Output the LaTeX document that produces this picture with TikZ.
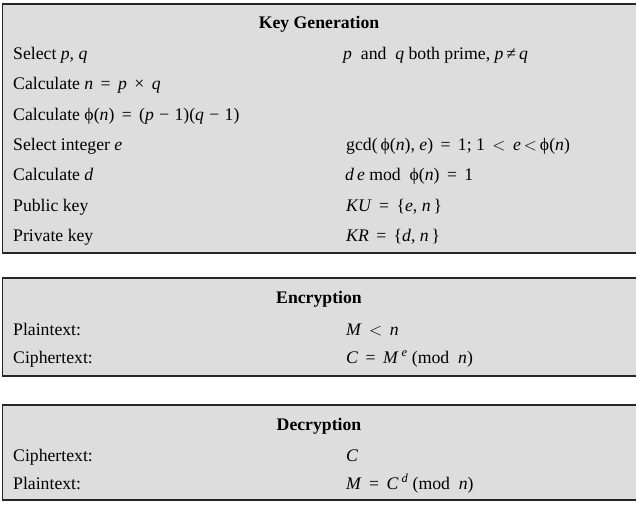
\documentclass[tikz,border=0pt]{standalone}
\usepackage{fontspec}
\setmainfont{Liberation Serif}
\usepackage{tikz}
\definecolor{panelgray}{gray}{0.865}
\newcommand{\vr}[1]{\textit{#1}}
\newcommand{\rel}[1]{\hspace{0.42em}#1\hspace{0.42em}}
\newcommand{\bin}[1]{\hspace{0.3em}#1\hspace{0.3em}}
\tikzset{
    every node/.style={inner sep=0pt, anchor=base west,
    	font=\fontsize{17.7}{21}\selectfont}
}
\tikzset{
    panel/.style={fill=panelgray},
    rim/.style={draw=black!85, line width=1.3pt},
    head/.style={anchor=base, font=\fontsize{17.7}{21}\selectfont\bfseries}
}

\begin{document}
\begin{tikzpicture}[x=1pt,y=-1pt]
	\useasboundingbox (0,0) rectangle (639,506);
	% boxes
	\fill[panel] (2.5,4) rectangle (636,253);
	\draw[rim] (636,4) -- (2.5,4) -- (2.5,253) -- (636,253);
	\fill[panel] (2.5,278) rectangle (636,376);
	\draw[rim] (636,278) -- (2.5,278) -- (2.5,376) -- (636,376);
	\fill[panel] (2.5,405) rectangle (636,500);
	\draw[rim] (636,405) -- (2.5,405) -- (2.5,500) -- (636,500);
	
	\node (kg) [head] at (319, 28) {Key Generation};
	\node (k1) at (13, 59) {Select \vr{p}, \vr{q}};
	\node (k2) at (13, 89.5) {Calculate \vr{n}\rel{=}\vr{p}\rel{×}\vr{q}};
	\node (k3) at (13, 120) {Calculate ϕ(\vr{n})\rel{=}(\vr{p}\bin{−}1)(\vr{q}\bin{−}1)};
	\node (k4) at (13, 150) {Select integer \vr{e}};
	\node (k5) at (13, 180.5) {Calculate \vr{d}};
	\node (k6) at (13, 211) {Public key};
	\node (k7) at (13, 241) {Private key};
	\node (v1) at (343, 59) {\vr{p} \ and \ \vr{q} both prime, \vr{p}\,≠\,\vr{q}};
	\node (v4) at (346, 150) {gcd(\,ϕ(\vr{n}), \vr{e})\rel{=}1;\ 1\rel{$<$}\vr{e}\,$<$\,ϕ(\vr{n})};
	\node (v5) at (345, 180.5) {\vr{d}\,\vr{e} mod \ ϕ(\vr{n})\rel{=}1};
	\node (v6) at (346, 211) {\vr{KU}\rel{=}\{\vr{e}, \vr{n}\,\}};
	\node (v7) at (346, 241) {\vr{KR}\rel{=}\{\vr{d}, \vr{n}\,\}};
	
	\node (en) [head] at (319, 303) {Encryption};
	\node (e1) at (13, 335) {Plaintext:};
	\node (e2) at (13, 363) {Ciphertext:};
	\node (w1) at (346, 335) {\vr{M}\rel{$<$}\vr{n}};
	\node (w2) at (346, 363) {\vr{C}\rel{=}\vr{M}\,\textsuperscript{\vr{e}} (mod \ \vr{n})};
	
	\node (de) [head] at (319, 430) {Decryption};
	\node (d1) at (13, 461) {Ciphertext:};
	\node (d2) at (13, 489) {Plaintext:};
	\node (u1) at (346, 461) {\vr{C}};
	\node (u2) at (346, 489) {\vr{M}\rel{=}\vr{C}\,\textsuperscript{\vr{d}} (mod \ \vr{n})};
\end{tikzpicture}
\end{document}
